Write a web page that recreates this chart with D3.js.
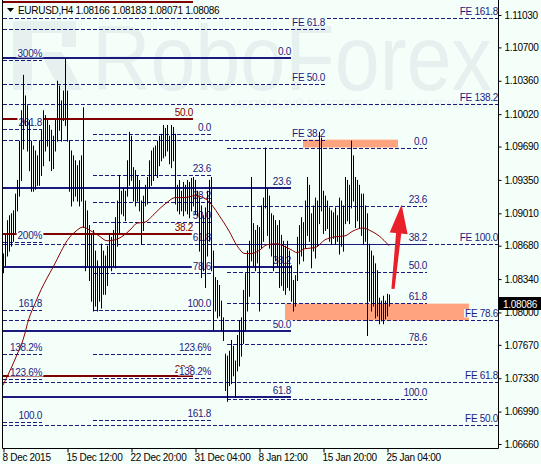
<!DOCTYPE html>
<html>
<head>
<meta charset="utf-8">
<script src="https://cdn.jsdelivr.net/npm/d3@7/dist/d3.min.js"></script>
<style>
body{margin:0;background:#f5fffa;}
text{font-family:"Liberation Sans",Arial,sans-serif;font-size:10px;letter-spacing:-0.3px;}
</style>
</head>
<body>
<script>
'use strict';

// EURUSD H4 bars, one value per bar (8 Dec 2015 .. 25 Jan 2016)
var highs = [
  1.0860,1.0879,1.0894,1.0899,1.0901,1.0904,1.0921,1.0935,1.0975,1.1006,
  1.1042,1.1021,1.1011,1.0996,1.0975,1.0970,1.0965,1.0960,1.0975,1.0986,
  1.1006,1.1001,1.0996,1.0991,1.0986,1.0980,1.0996,1.1036,1.1031,1.1016,
  1.1026,1.1059,1.1026,1.0975,1.0965,1.0960,1.0955,1.0950,1.0955,1.0960,
  1.1009,1.0914,1.0904,1.0889,1.0879,1.0884,1.0863,1.0853,1.0846,1.0870,
  1.0863,1.0858,1.0868,1.0881,1.0877,1.0884,1.0897,1.0914,1.0940,1.0924,
  1.0927,1.0924,1.0955,1.0984,1.0980,1.0948,1.0945,1.0940,1.0935,1.0914,
  1.0919,1.0930,1.0938,1.0955,1.0965,1.0968,1.0970,1.0975,1.0980,1.0982,
  1.0991,1.0988,1.0991,1.0980,1.0991,1.0989,1.0982,1.0930,1.0935,1.0924,
  1.0933,1.0930,1.0935,1.0933,1.0937,1.0938,1.0935,1.0924,1.0917,1.0909,
  1.0899,1.0907,1.0924,1.0935,1.0938,1.0863,1.0836,1.0833,1.0828,1.0812,
  1.0795,1.0758,1.0756,1.0761,1.0772,1.0766,1.0751,1.0777,1.0792,1.0795,
  1.0823,1.0840,1.0863,1.0873,1.0938,1.0891,1.0884,1.0889,1.0887,1.0909,
  1.0917,1.0968,1.0927,1.0919,1.0901,1.0899,1.0894,1.0889,1.0894,1.0879,
  1.0873,1.0868,1.0873,1.0863,1.0848,1.0833,1.0838,1.0877,1.0889,1.0897,
  1.0892,1.0914,1.0938,1.0930,1.0901,1.0909,1.0917,1.0914,1.0984,1.0978,
  1.0924,1.0919,1.0914,1.0907,1.0904,1.0902,1.0907,1.0899,1.0917,1.0914,
  1.0909,1.0938,1.0935,1.0930,1.0975,1.0960,1.0938,1.0935,1.0930,1.0921,
  1.0921,1.0909,1.0901,1.0870,1.0863,1.0858,1.0850,1.0843,1.0815,1.0812,
  1.0817,1.0812,1.0819,1.08183
];
var lows = [
  1.0841,1.0848,1.0858,1.0863,1.0868,1.0873,1.0882,1.0904,1.0919,1.0935,
  1.0967,1.0991,1.0965,1.0945,1.0924,1.0924,1.0926,1.0930,1.0930,1.0940,
  1.0950,1.0965,1.0970,1.0955,1.0945,1.0947,1.0965,1.0975,1.0986,1.0975,
  1.0996,1.0991,1.0975,1.0924,1.0909,1.0914,1.0919,1.0914,1.0909,1.0914,
  1.0887,1.0843,1.0848,1.0833,1.0812,1.0802,1.0807,1.0802,1.0812,1.0805,
  1.0819,1.0819,1.0828,1.0846,1.0843,1.0848,1.0846,1.0868,1.0881,1.0901,
  1.0899,1.0894,1.0919,1.0930,1.0935,1.0914,1.0909,1.0914,1.0904,1.0870,
  1.0884,1.0909,1.0911,1.0927,1.0930,1.0935,1.0940,1.0938,1.0950,1.0955,
  1.0958,1.0960,1.0965,1.0952,1.0948,1.0955,1.0911,1.0904,1.0901,1.0904,
  1.0899,1.0904,1.0901,1.0897,1.0904,1.0909,1.0901,1.0899,1.0863,1.0836,
  1.0843,1.0826,1.0858,1.0873,1.0843,1.0782,1.0802,1.0795,1.0797,1.0782,
  1.0772,1.0721,1.0710,1.0726,1.0728,1.0736,1.0714,1.0741,1.0746,1.0756,
  1.0769,1.0782,1.0802,1.0817,1.0853,1.0848,1.0843,1.0851,1.0802,1.0866,
  1.0873,1.0907,1.0879,1.0866,1.0858,1.0843,1.0853,1.0848,1.0826,1.0828,
  1.0823,1.0819,1.0826,1.0823,1.0812,1.0802,1.0807,1.0833,1.0850,1.0858,
  1.0853,1.0866,1.0879,1.0873,1.0846,1.0863,1.0856,1.0868,1.0891,1.0904,
  1.0881,1.0884,1.0886,1.0873,1.0870,1.0876,1.0870,1.0873,1.0860,1.0868,
  1.0863,1.0891,1.0894,1.0891,1.0907,1.0914,1.0887,1.0894,1.0887,1.0879,
  1.0870,1.0873,1.0777,1.0812,1.0802,1.0807,1.0795,1.0797,1.0789,1.0792,
  1.0789,1.0794,1.0797,1.08071
];
var lastClose = 1.08086;

// moving average, sampled at some bars
var maBars = [0,4,7,10,13,16,19,22,25,29,32,36,40,44,48,52,56,60,64,67,71,75,79,82,86,91,96,101,105,108,
  113,117,121,124,128,132,137,141,144,147,151,156,161,166,171,175,180,184,188,193];
var maVals = [1.0726,1.0743,1.0757,1.0772,1.0794,1.0809,1.0823,1.0835,1.0846,1.0862,1.0873,1.0882,1.0887,1.0883,1.0878,
  1.0873,1.0874,1.0878,1.0885,1.0891,1.0892,1.0899,1.0907,1.0912,1.0917,1.0917,1.0919,1.0916,1.0908,1.0899,
  1.0883,1.0868,1.0860,1.0860,1.0863,1.0869,1.0870,1.0867,1.0864,1.0861,1.0865,1.0866,1.0874,1.0877,1.0878,
  1.0883,1.0886,1.0883,1.0878,1.0868];

// axis ticks
var priceTicks = [1.11030,1.10700,1.10360,1.10020,1.09690,1.09350,1.09010,1.08680,1.08340,1.08000,1.07670,1.07330,1.06990,1.06660];
var dateBars = [0, 32, 64, 96, 128, 160, 192];
var dateLabels = ['8 Dec 2015','15 Dec 12:00','22 Dec 20:00','31 Dec 04:00','8 Jan 12:00','15 Jan 20:00','25 Jan 04:00'];

// fibonacci objects: level prices and texts
var feRightLevels = [1.1100, 1.1012, 1.0870, 1.0792, 1.0729, 1.0685];
var feRightLabels = ['FE 161.8','FE 138.2','FE 100.0','FE 78.6','FE 61.8','FE 50.0'];
var feMidLevels = [1.1089, 1.1033, 1.0976];
var feMidLabels = ['FE 61.8','FE 50.0','FE 38.2'];
var mainLevels = [1.1059, 1.0927, 1.0846, 1.0781, 1.0714];
var mainLabels = ['0.0','23.6','38.2','50.0','61.8'];
var redLevels = [1.1116, 1.0997, 1.0880, 1.0735];
var redLabels = ['', '50.0','38.2','23.6'];  // top level's text is above the window
var leftLevels = [1.1057, 1.0987, 1.0872, 1.0802, 1.0758, 1.0732, 1.0688];
var leftLabels = ['300%','261.8','200%','161.8','138.2%','123.6%','100.0'];
var midLevels = [1.0982, 1.0940, 1.0913, 1.0892, 1.0870, 1.0840, 1.0802, 1.0758, 1.0733, 1.0690];
var midLabels = ['0.0','23.6','38.2','50.0','61.8','78.6','100.0','123.6%','138.2%','161.8'];
var rightLevels = [1.0968, 1.0908, 1.0870, 1.0841, 1.0810, 1.0768, 1.0712];
var rightLabels = ['0.0','23.6','38.2','50.0','61.8','78.6','100.0'];

// zones [fromBar, toBar, top, bottom]
var zones = [[150, 197.5, 1.0976, 1.0968], [141, 233, 1.0809, 1.0792]];
// arrow [bar, price] -> [bar, price]
var arrowFrom = [195, 1.0824];
var arrowTo = [199.3, 1.0910];

var W = 541, H = 464;
var bg = '#f5fffa';
var navy = '#1b1b7e';
var maroon = '#800000';

var svg = d3.select('body').append('svg')
  .attr('width', W)
  .attr('height', H);

svg.append('rect').attr('width', W).attr('height', H).attr('fill', bg);

var x = d3.scaleLinear().domain([0, 247.5]).range([3, 498]);
var y = d3.scaleLinear().domain([1.1103, 1.0666]).range([15, 444]);

svg.append('clipPath').attr('id', 'plotclip')
  .append('rect').attr('x', 2).attr('y', 0).attr('width', 496).attr('height', 448);

var plot = svg.append('g').attr('clip-path', 'url(#plotclip)');

// watermark
var wm = '#e6f0ef';
plot.append('path')
  .attr('d', 'M13,21H76V47H62V33H32V90H13Z M40,52H62L82,90H60Z')
  .attr('fill', wm);
plot.append('text')
  .attr('x', 92).attr('y', 90)
  .attr('textLength', 400).attr('lengthAdjust', 'spacingAndGlyphs')
  .style('font-size', '92px').style('letter-spacing', '0')
  .attr('fill', wm)
  .text('RoboForex');
plot.append('text')
  .attr('x', 233).attr('y', 108)
  .attr('textLength', 255).attr('lengthAdjust', 'spacingAndGlyphs')
  .style('font-size', '11px')
  .attr('fill', '#e8f2f1')
  .text('ИСПОЛЬЗУЙ РОБОТОВ — ПОЛУЧИ ПРИБЫЛЬ');

// zones
plot.selectAll('.zone').data(zones)
  .enter().append('rect')
    .attr('class', 'zone')
    .attr('x', function(d){return x(d[0]);})
    .attr('width', function(d){return x(d[1]) - x(d[0]);})
    .attr('y', function(d){return y(d[2]);})
    .attr('height', function(d){return y(d[3]) - y(d[2]);})
    .attr('fill', '#ffa47e');

function drawFibo(levels, labels, from, to, color, width, dash){
  var g = plot.append('g');
  g.selectAll('line').data(levels)
    .enter().append('line')
      .attr('x1', x(from))
      .attr('x2', x(to))
      .attr('y1', function(d){return Math.round(y(d)) + (width == 1 ? 0.5 : 0);})
      .attr('y2', function(d){return Math.round(y(d)) + (width == 1 ? 0.5 : 0);})
      .attr('stroke', color)
      .attr('stroke-width', width)
      .attr('stroke-dasharray', dash);
  levels.forEach(function(d, i){
    if (!labels[i]) return;
    var lg = g.append('g');
    var r = lg.append('rect').attr('fill', bg);
    var t = lg.append('text')
      .attr('x', x(to))
      .attr('y', Math.round(y(d)) - 3)
      .attr('text-anchor', 'end')
      .attr('fill', color)
      .text(labels[i]);
    var b = t.node().getBBox();
    r.attr('x', b.x - 1).attr('y', b.y + 1)
      .attr('width', b.width + 2).attr('height', b.height - 2.5);
  });
}

drawFibo(feRightLevels, feRightLabels, 0, 247.5, navy, 1, '4,2');
drawFibo(redLevels, redLabels, 0, 95, maroon, 2, null);
drawFibo(mainLevels, mainLabels, 0, 144, navy, 2, null);
drawFibo(feMidLevels, feMidLabels, 0, 161, navy, 1, '4,2');
drawFibo(leftLevels, leftLabels, 0, 19.5, navy, 1, '4,2');
drawFibo(midLevels, midLabels, 45, 104, navy, 1, '4,2');
drawFibo(rightLevels, rightLabels, 112, 212, navy, 1, '4,2');

// bars
plot.selectAll('.bar').data(highs)
  .enter().append('line')
    .attr('class', 'bar')
    .attr('x1', function(d, i){return x(i) + 0.5;})
    .attr('x2', function(d, i){return x(i) + 0.5;})
    .attr('y1', function(d){return y(d);})
    .attr('y2', function(d, i){return y(lows[i]) + 1;})
    .attr('stroke', '#000')
    .attr('stroke-width', 1);

// moving average
var maLine = d3.line()
  .x(function(d){return x(d);})
  .y(function(d, i){return y(maVals[i]);})
  .curve(d3.curveMonotoneX);
plot.append('path')
  .attr('d', maLine(maBars))
  .attr('fill', 'none')
  .attr('stroke', '#8b0000')
  .attr('stroke-width', 1);

// red arrow
var ax0 = x(arrowFrom[0]), ay0 = y(arrowFrom[1]);
var ax1 = x(arrowTo[0]), ay1 = y(arrowTo[1]);
var len = Math.sqrt((ax1 - ax0) * (ax1 - ax0) + (ay1 - ay0) * (ay1 - ay0));
var ux = (ax1 - ax0) / len, uy = (ay1 - ay0) / len;
var nx = -uy, ny = ux;
var bx = ax1 - ux * 29, by = ay1 - uy * 29;
var pts = [
  [ax0 + nx * 1.6, ay0 + ny * 1.6],
  [bx + nx * 2.6, by + ny * 2.6],
  [bx + nx * 9, by + ny * 9],
  [ax1, ay1],
  [bx - nx * 9, by - ny * 9],
  [bx - nx * 2.6, by - ny * 2.6],
  [ax0 - nx * 1.6, ay0 - ny * 1.6]
];
plot.append('path')
  .attr('d', 'M' + pts.join('L') + 'Z')
  .attr('fill', '#e8202a');

// frame
svg.append('path')
  .attr('d', 'M2.5,0V448.5H498.5V0')
  .attr('fill', 'none')
  .attr('stroke', '#000')
  .attr('stroke-width', 1);

// right price axis
var yAxis = d3.axisRight(y)
  .tickValues(priceTicks)
  .tickFormat(d3.format('.5f'))
  .tickSize(3)
  .tickPadding(3);
var ya = svg.append('g')
  .attr('transform', 'translate(498.5,0)')
  .call(yAxis);
ya.select('.domain').remove();
ya.selectAll('text').attr('fill', '#000').style('font-size', '10px').style('font-family', '"Liberation Sans",Arial,sans-serif');

// bottom time axis
var xAxis = d3.axisBottom(x)
  .tickValues(dateBars)
  .tickFormat(function(d, i){return dateLabels[i];})
  .tickSize(4)
  .tickPadding(1);
var xa = svg.append('g')
  .attr('transform', 'translate(0.5,448.5)')
  .call(xAxis);
xa.select('.domain').remove();
xa.selectAll('text')
  .attr('text-anchor', 'start')
  .attr('x', -1.5)
  .attr('fill', '#000')
  .style('font-size', '10px')
  .style('font-family', '"Liberation Sans",Arial,sans-serif');

// current price marker
var cy = y(lastClose);
svg.append('rect')
  .attr('x', 499).attr('y', Math.round(cy) - 7)
  .attr('width', 42).attr('height', 13)
  .attr('fill', '#000');
svg.append('text')
  .attr('x', 503).attr('y', Math.round(cy) + 3.5)
  .attr('fill', '#fff')
  .text(d3.format('.5f')(lastClose));

// header
svg.append('path').attr('d', 'M7,8H14L10.5,12Z').attr('fill', '#000');
svg.append('text')
  .attr('x', 18).attr('y', 14)
  .attr('fill', '#000')
  .text('EURUSD,H4  1.08166 1.08183 1.08071 1.08086');
</script>
</body>
</html>
